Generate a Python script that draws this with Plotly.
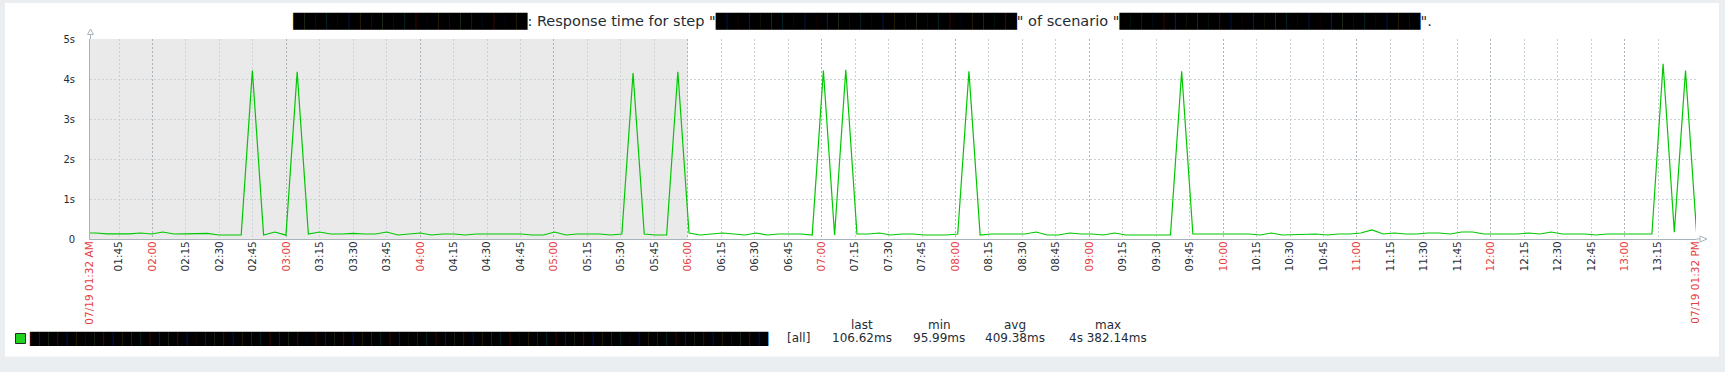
import plotly.graph_objects as go
import pandas as pd

# ---------------- data ----------------
values = [0.15, 0.15, 0.13, 0.13, 0.13, 0.15, 0.125, 0.175, 0.125, 0.13, 0.14, 0.14, 0.10, 0.10, 0.10,
          4.21, 0.10, 0.175, 0.096, 4.18, 0.125, 0.175, 0.125, 0.125, 0.14, 0.125, 0.125, 0.175, 0.10,
          0.125, 0.15, 0.10, 0.125, 0.125, 0.10, 0.125, 0.125, 0.125, 0.125, 0.125, 0.10, 0.10, 0.175,
          0.10, 0.125, 0.125, 0.125, 0.10, 0.125, 4.15, 0.125, 0.10, 0.10, 4.18, 0.15, 0.10, 0.125, 0.15,
          0.125, 0.10, 0.15, 0.10, 0.125, 0.125, 0.125, 0.10, 4.21, 0.10, 4.23, 0.125, 0.125, 0.15, 0.10,
          0.125, 0.125, 0.10, 0.10, 0.10, 0.125, 4.19, 0.10, 0.125, 0.125, 0.125, 0.125, 0.175, 0.10, 0.10,
          0.15, 0.125, 0.125, 0.10, 0.15, 0.10, 0.10, 0.10, 0.10, 0.10, 4.19, 0.125, 0.125, 0.125, 0.125,
          0.125, 0.125, 0.10, 0.15, 0.10, 0.11, 0.125, 0.125, 0.10, 0.125, 0.125, 0.15, 0.225, 0.125, 0.15,
          0.125, 0.125, 0.15, 0.15, 0.125, 0.175, 0.175, 0.125, 0.125, 0.125, 0.125, 0.15, 0.125, 0.175,
          0.125, 0.125, 0.125, 0.10, 0.125, 0.125, 0.125, 0.125, 0.125, 4.38, 0.17, 4.21, 0.107]
sample_start = "2024-07-19 01:29:30.4"
sample_step = "301170ms"

x_start = "2024-07-19 01:32:00"
x_end = "2024-07-19 13:32:00"
night_end = "2024-07-19 06:00:00"
start_label = "07/19 01:32 AM"
end_label = "07/19 01:32 PM"

y_tickvals = [0, 1, 2, 3, 4, 5]
y_ticktext = ["0", "1s", "2s", "3s", "4s", "5s"]

stat_names = ["last", "min", "avg", "max"]
stat_values = ["106.62ms", "95.99ms", "409.38ms", "4s 382.14ms"]
legend_func = "[all]"

BLK = "\u2588"


def redacted(n):
    return f'<span style="color:#000000">{BLK * n}</span>'


title_text = (redacted(21) + ': Response time for step "' + redacted(27) +
              '" of scenario "' + redacted(27) + '".')
legend_name = BLK * 80

# ---------------- styling ----------------
W, H = 1725, 372
L, R, T, B = 90, 29, 39, 133
PW, PH = W - L - R, H - T - B
FONT = "DejaVu Sans"
TXT = "#1f2c33"
RED = "#e53e3e"
LINE_GREEN = "#00c800"
GRID_LIGHT = "#cad2d6"
GRID_DARK = "#a9b4ba"
AXIS = "#a9b4ba"


def px(x):
    return (x - L) / PW


def py(y):
    return (H - B - y) / PH


times = pd.date_range(start=sample_start, periods=len(values), freq=sample_step)

quarters = pd.date_range("2024-07-19 01:45", "2024-07-19 13:15", freq="15min")
hours = [t for t in quarters if t.minute == 0]
non_hours = [t for t in quarters if t.minute != 0]

tickvals = [pd.Timestamp(x_start)] + list(quarters) + [pd.Timestamp(x_end)]
ticktext = ([f'<span style="color:{RED}">{start_label}</span>'] +
            [(f'<span style="color:{RED}">{t:%H:%M}</span>' if t.minute == 0 else f"{t:%H:%M}")
             for t in quarters] +
            [f'<span style="color:{RED}">{end_label}</span>'])

fig = go.Figure()
fig.add_trace(go.Scatter(x=times, y=values, mode="lines",
                         line=dict(color=LINE_GREEN, width=1.2),
                         hoverinfo="skip", showlegend=False))
fig.add_trace(go.Scatter(x=[x_start], y=[None], xaxis="x2", mode="lines",
                         hoverinfo="skip", showlegend=False))

shapes = [
    # white panel
    dict(type="rect", xref="paper", yref="paper", x0=px(5), x1=px(1719), y0=py(356.5), y1=py(3),
         fillcolor="white", line=dict(width=0), layer="below"),
    # non-working time shading
    dict(type="rect", xref="x", yref="paper", x0=x_start, x1=night_end, y0=0, y1=1,
         fillcolor="#eaeaea", line=dict(width=0), layer="below"),
    # y axis arrow
    dict(type="path", xref="paper", yref="paper", xsizemode="pixel", ysizemode="pixel",
         xanchor=0, yanchor=1, path="M 0.5,0 L 0.5,4.5 M -2.5,4.5 L 3.5,4.5 L 0.5,10 Z",
         line=dict(color=AXIS, width=1), fillcolor="white"),
    # x axis arrow
    dict(type="path", xref="paper", yref="paper", xsizemode="pixel", ysizemode="pixel",
         xanchor=1, yanchor=0, path="M 0,0 L 4,0 M 4,3 L 4,-3 L 11,0 Z",
         line=dict(color=AXIS, width=1), fillcolor="white"),
    # legend colour box
    dict(type="rect", xref="paper", yref="paper", x0=px(15.5), x1=px(25.5), y0=py(343.5), y1=py(333.5),
         fillcolor="#1ed21e", line=dict(color="#2a2a2a", width=1)),
]

annotations = [
    dict(text=legend_name, x=px(27), y=py(338), xref="paper", yref="paper", xanchor="left",
         yanchor="middle", showarrow=False, font=dict(family=FONT, size=12, color="black")),
    dict(text=legend_func, x=px(798), y=py(338), xref="paper", yref="paper", xanchor="center",
         yanchor="middle", showarrow=False, font=dict(family=FONT, size=12, color=TXT)),
]
stat_centers = [862, 939, 1015, 1108]
for name, val, cx in zip(stat_names, stat_values, stat_centers):
    annotations.append(dict(text=name, x=px(cx), y=py(325), xref="paper", yref="paper",
                            xanchor="center", yanchor="middle", showarrow=False,
                            font=dict(family=FONT, size=12, color=TXT)))
    annotations.append(dict(text=val, x=px(cx), y=py(338), xref="paper", yref="paper",
                            xanchor="center", yanchor="middle", showarrow=False,
                            font=dict(family=FONT, size=12, color=TXT)))

fig.update_layout(
    width=W, height=H,
    margin=dict(l=L, r=R, t=T, b=B, pad=0),
    paper_bgcolor="#ebeef0",
    plot_bgcolor="rgba(0,0,0,0)",
    font=dict(family=FONT, color=TXT),
    title=dict(text=title_text, x=0.5, xref="container", xanchor="center",
               y=1 - 21 / H, yref="container", yanchor="middle",
               font=dict(family=FONT, size=14.5, color=TXT)),
    showlegend=False,
    shapes=shapes,
    annotations=annotations,
    xaxis=dict(type="date", range=[x_start, x_end], tickmode="array", tickvals=tickvals,
               ticktext=ticktext, tickangle=-90, tickfont=dict(family=FONT, size=10.5, color=TXT),
               showgrid=False, ticks="", ticklabelstandoff=-3, showline=True, linecolor=AXIS,
               linewidth=1, zeroline=False, fixedrange=True,
               minor=dict(tickmode="array", tickvals=non_hours, showgrid=True, gridcolor=GRID_LIGHT,
                          gridwidth=1, griddash="2px,2px", ticks="")),
    xaxis2=dict(type="date", overlaying="x", matches="x", range=[x_start, x_end], tickmode="array",
                tickvals=hours + [pd.Timestamp(x_end)], showticklabels=False, showgrid=True,
                gridcolor=GRID_DARK, gridwidth=1, griddash="2px,2px", ticks="", showline=False,
                zeroline=False),
    yaxis=dict(range=[0, 5], tickmode="array", tickvals=y_tickvals, ticktext=y_ticktext,
               tickfont=dict(family=FONT, size=10, color=TXT), showgrid=True, gridcolor=GRID_LIGHT,
               gridwidth=1, griddash="2px,2px", ticks="", ticklabelstandoff=12, showline=True,
               linecolor=AXIS, linewidth=1, zeroline=False, fixedrange=True),
)

fig.write_html("out.html")
